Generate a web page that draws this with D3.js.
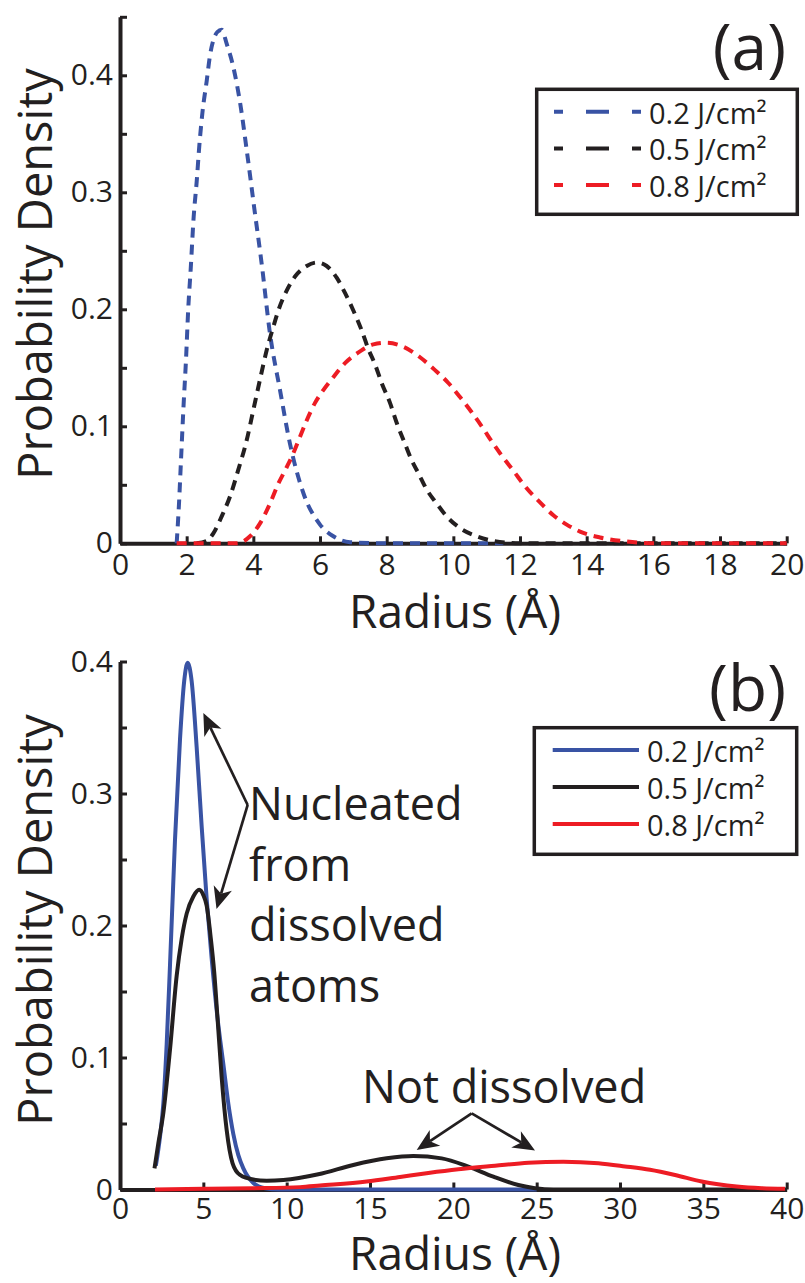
<!DOCTYPE html>
<html>
<head>
<meta charset="utf-8">
<script src="https://cdn.jsdelivr.net/npm/d3@7"></script>
<style>
  body { margin: 0; background: #fff; }
  svg { display: block; font-family: "Open Sans", sans-serif; }
  .axis path, .axis line { stroke: #231f20; }
  .axis text { font-family: "Open Sans", sans-serif; fill: #231f20; }
</style>
</head>
<body>
<svg id="chart" width="805" height="1283"></svg>
<script>
// series labels + colours
const fluences = ['0.2 J/cm²', '0.5 J/cm²', '0.8 J/cm²'];
const colors = ['#3953a4', '#231f20', '#ed1c24'];

// panel (a): [radius, density]
const a02 = [[1.7,0],[1.77,0.034],[1.83,0.071],[1.9,0.114],[1.98,0.157],[2.05,0.202],[2.12,0.234],[2.21,0.279],[2.3,0.309],[2.38,0.34],[2.48,0.37],[2.6,0.395],[2.7,0.417],[2.8,0.43],[2.92,0.437],[3.05,0.439],[3.2,0.427],[3.4,0.407],[3.6,0.377],[3.82,0.332],[4.03,0.286],[4.25,0.239],[4.5,0.179],[4.8,0.131],[5.1,0.085],[5.5,0.043],[6.0,0.016],[6.4,0.006],[6.9,0.001],[8,0],[11.5,0]];
const a05 = [[2.3,0],[2.6,0.002],[2.8,0.0085],[3.05,0.023],[3.3,0.04],[3.55,0.063],[3.8,0.088],[4.0,0.114],[4.2,0.14],[4.4,0.165],[4.6,0.185],[4.75,0.199],[5.0,0.216],[5.25,0.228],[5.6,0.237],[5.9,0.24],[6.2,0.237],[6.5,0.227],[6.75,0.214],[7.0,0.199],[7.25,0.182],[7.45,0.166],[7.65,0.153],[7.85,0.137],[8.1,0.12],[8.3,0.103],[8.55,0.085],[8.75,0.071],[8.95,0.06],[9.2,0.046],[9.5,0.034],[9.8,0.023],[10.2,0.013],[10.7,0.006],[11.2,0.002],[12,0],[20,0]];
const a08 = [[1.7,0],[3.5,0],[3.9,0.006],[4.2,0.017],[4.5,0.034],[4.75,0.051],[5.0,0.065],[5.2,0.077],[5.4,0.091],[5.6,0.105],[5.85,0.12],[6.1,0.131],[6.4,0.142],[6.75,0.154],[7.2,0.164],[7.6,0.17],[8.0,0.1715],[8.5,0.168],[9.0,0.159],[9.45,0.148],[9.85,0.137],[10.2,0.125],[10.55,0.112],[10.85,0.1],[11.2,0.085],[11.4,0.077],[11.8,0.062],[12.2,0.047],[12.6,0.035],[13.0,0.024],[13.4,0.016],[13.8,0.01],[14.4,0.005],[15.2,0.0015],[16,0],[20,0]];

// panel (b)
const b02 = [[2.15,0.018],[2.4,0.04],[2.6,0.065],[2.8,0.11],[3.0,0.17],[3.3,0.265],[3.6,0.341],[3.85,0.385],[4.06,0.399],[4.3,0.385],[4.6,0.335],[4.9,0.275],[5.2,0.22],[5.5,0.175],[5.85,0.13],[6.2,0.095],[6.5,0.065],[6.8,0.042],[7.1,0.026],[7.4,0.016],[8.0,0.005],[8.7,0.001],[9.5,0],[25,0]];
const b05 = [[2.07,0.016],[2.3,0.035],[2.6,0.058],[3.0,0.106],[3.4,0.162],[3.7,0.19],[4.0,0.209],[4.4,0.222],[4.75,0.227],[5.0,0.223],[5.2,0.215],[5.45,0.19],[5.65,0.165],[5.85,0.13],[6.1,0.085],[6.4,0.045],[6.75,0.02],[7.2,0.011],[8.0,0.0075],[8.8,0.0067],[9.8,0.0072],[11.9,0.0115],[14,0.0186],[16,0.0236],[17.6,0.0254],[19.3,0.0236],[20.9,0.0173],[22.4,0.0097],[23.9,0.0034],[24.9,0.001],[26,0],[40,0]];
const b08 = [[2.1,0],[5,0.0005],[8,0.001],[10.8,0.0018],[12,0.003],[14.8,0.006],[16.8,0.0095],[18.5,0.0125],[20.3,0.0153],[22.5,0.018],[24.5,0.0203],[26.6,0.0211],[28.7,0.0199],[30.3,0.0175],[31.8,0.0149],[33.3,0.011],[34.9,0.0061],[37,0.0023],[38.5,0.001],[39.9,0.0005]];

// ticks
const aXTicks = [0,2,4,6,8,10,12,14,16,18,20];
const aYTicks = [0,0.05,0.1,0.15,0.2,0.25,0.3,0.35,0.4,0.45];
const bXTicks = [0,5,10,15,20,25,30,35,40];
const bYTicks = [0,0.05,0.1,0.15,0.2,0.25,0.3,0.35,0.4];

const svg = d3.select('#chart');

function drawPanel(cfg) {
    const x = d3.scaleLinear().domain(cfg.xDomain).range([120, 786.7]);
    const y = d3.scaleLinear().domain(cfg.yDomain).range(cfg.yRange);
    const g = svg.append('g');

    const fmtY = d => (Math.round(d * 100) % 10 === 0) ? (d === 0 ? '0' : d3.format('.1f')(d)) : '';

    const xAxis = d3.axisBottom(x).tickValues(cfg.xTicks).tickFormat(d3.format('d'))
        .tickSizeInner(-7).tickSizeOuter(0).tickPadding(cfg.xPad);
    const yAxis = d3.axisLeft(y).tickValues(cfg.yTicks).tickFormat(fmtY)
        .tickSizeInner(-7).tickSizeOuter(0).tickPadding(7);

    const xg = g.append('g').attr('class', 'axis')
        .attr('transform', `translate(0,${cfg.yRange[0]})`).call(xAxis);
    const yg = g.append('g').attr('class', 'axis')
        .attr('transform', 'translate(120,0)').call(yAxis);
    [xg, yg].forEach(a => {
        a.select('.domain').attr('stroke-width', 4);
        a.selectAll('.tick line').attr('stroke-width', 3);
        a.selectAll('.tick text').attr('font-size', 30);
    });

    const line = d3.line().x(d => x(d[0])).y(d => y(d[1])).curve(d3.curveMonotoneX);
    cfg.series.forEach((s, i) => {
        g.append('path')
            .attr('d', line(s))
            .attr('fill', 'none')
            .attr('stroke', colors[i])
            .attr('stroke-width', 4)
            .attr('stroke-dasharray', cfg.dashed ? '10,7' : null);
    });

    // axis titles
    g.append('text')
        .attr('transform', `translate(52,${cfg.yTitleY}) rotate(-90)`)
        .attr('text-anchor', 'middle').attr('font-size', 47).attr('fill', '#231f20')
        .text('Probability Density');
    g.append('text')
        .attr('x', 455).attr('y', cfg.xTitleY)
        .attr('text-anchor', 'middle').attr('font-size', 46).attr('fill', '#231f20')
        .text('Radius (Å)');

    // panel tag
    g.append('text')
        .attr('x', 786).attr('y', cfg.tagY)
        .attr('text-anchor', 'end').attr('font-size', 64).attr('fill', '#231f20')
        .text(cfg.tag);

    // legend
    const L = cfg.legend;
    g.append('rect')
        .attr('x', L.x).attr('y', L.y).attr('width', L.w).attr('height', L.h)
        .attr('fill', '#fff').attr('stroke', '#231f20').attr('stroke-width', 3.5);
    fluences.forEach((f, i) => {
        const ly = L.y + L.first + i * L.step;
        g.append('line')
            .attr('x1', L.lx1).attr('x2', L.lx2).attr('y1', ly).attr('y2', ly)
            .attr('stroke', colors[i]).attr('stroke-width', 4)
            .attr('stroke-dasharray', cfg.dashed ? '9,23,23,23,9' : null);
        g.append('text')
            .attr('x', L.tx).attr('y', ly + 12)
            .attr('font-size', 29).attr('fill', '#231f20')
            .text(f);
    });

    return {g, x, y};
}

drawPanel({
    tag: '(a)', tagY: 70,
    xDomain: [0, 20], yDomain: [0, 0.45], yRange: [543.3, 16.8],
    xTicks: aXTicks, yTicks: aYTicks, xPad: 10,
    series: [a02, a05, a08], dashed: true,
    yTitleY: 274, xTitleY: 628,
    legend: {x: 536.7, y: 89.3, w: 260.6, h: 125, first: 22.4, step: 36.7, lx1: 554, lx2: 641, tx: 649}
});

const pb = drawPanel({
    tag: '(b)', tagY: 711,
    xDomain: [0, 40], yDomain: [0, 0.4], yRange: [1189.5, 661.5],
    xTicks: bXTicks, yTicks: bYTicks, xPad: 8,
    series: [b02, b05, b08], dashed: false,
    yTitleY: 920, xTitleY: 1269.5,
    legend: {x: 534.3, y: 727.7, w: 262.4, h: 126.6, first: 22.3, step: 37, lx1: 552.7, lx2: 639, tx: 647}
});

// annotations in panel (b), placed in data units
const nucleatedLines = ['Nucleated', 'from', 'dissolved', 'atoms'];
const nucleatedY = [0.28, 0.234, 0.188, 0.142];
const nucleatedArrows = {from: [7.66, 0.2913], to: [[5.0, 0.361], [5.79, 0.2125]]};
const notDissolved = {text: 'Not dissolved', at: [14.52, 0.0655], from: [21.1, 0.0577], to: [[17.8, 0.0299], [24.9, 0.0295]]};

function arrow(g, x, y, from, to) {
    const x0 = x(from[0]), y0 = y(from[1]), x1 = x(to[0]), y1 = y(to[1]);
    const ang = Math.atan2(y1 - y0, x1 - x0);
    const len = 22, hw = 9.5, notch = 6;
    const ux = Math.cos(ang), uy = Math.sin(ang), px = -uy, py = ux;
    const bx = x1 - ux * len, by = y1 - uy * len;
    g.append('line')
        .attr('x1', x0).attr('y1', y0)
        .attr('x2', bx + ux * notch).attr('y2', by + uy * notch)
        .attr('stroke', '#231f20').attr('stroke-width', 2.7);
    g.append('path')
        .attr('d', `M${x1},${y1}L${bx + px * hw},${by + py * hw}L${bx + ux * notch},${by + uy * notch}L${bx - px * hw},${by - py * hw}Z`)
        .attr('fill', '#231f20');
}

nucleatedLines.forEach((t, i) => {
    pb.g.append('text')
        .attr('x', pb.x(7.74)).attr('y', pb.y(nucleatedY[i]))
        .attr('font-size', 45).attr('fill', '#231f20')
        .text(t);
});
nucleatedArrows.to.forEach(t => arrow(pb.g, pb.x, pb.y, nucleatedArrows.from, t));

pb.g.append('text')
    .attr('x', pb.x(notDissolved.at[0])).attr('y', pb.y(notDissolved.at[1]))
    .attr('font-size', 45).attr('fill', '#231f20')
    .text(notDissolved.text);
notDissolved.to.forEach(t => arrow(pb.g, pb.x, pb.y, notDissolved.from, t));
</script>
</body>
</html>
